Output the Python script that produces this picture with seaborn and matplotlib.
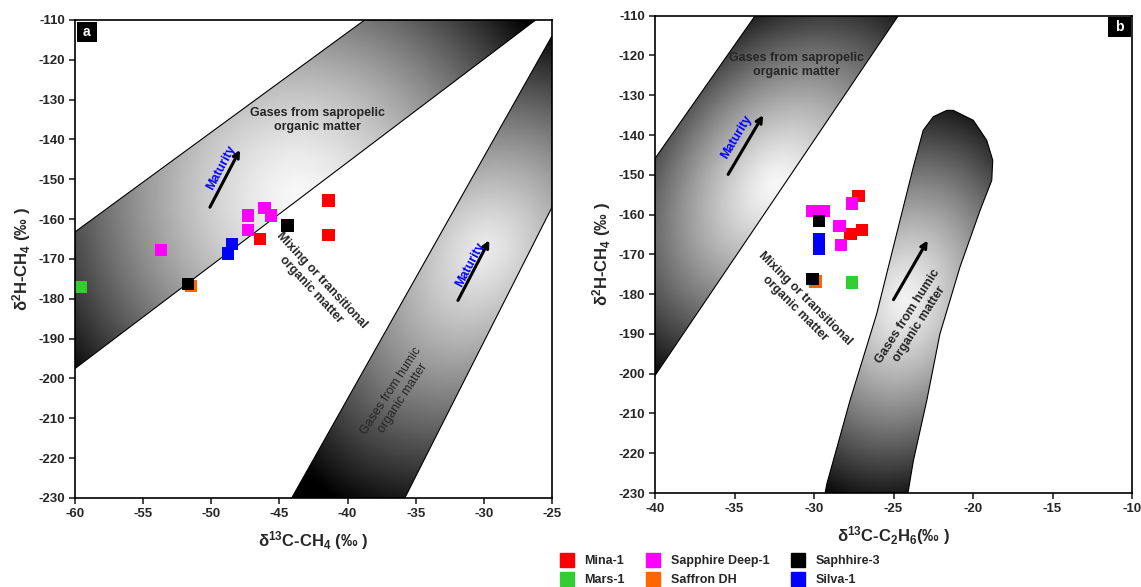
import numpy as np
import pandas as pd
import matplotlib
matplotlib.use("Agg")
import matplotlib.pyplot as plt
import seaborn as sns
from matplotlib.patches import Polygon, Rectangle
from matplotlib.lines import Line2D

# ---------------- data ----------------
samples = ["Mina-1", "Mars-1", "Sapphire Deep-1", "Saffron DH", "Saphhire-3", "Silva-1"]
colors = ["#FF0000", "#33CC33", "#FF00FF", "#FF6600", "#000000", "#0000FF"]

# d13C-CH4, d13C-C2H6, d2H-CH4 (permil)
mina_c1 = [-41.4, -41.4, -46.4]
mina_c2 = [-27.2, -27.0, -27.7]
mina_h = [-155.3, -163.9, -164.9]

mars_c1 = [-59.6]
mars_c2 = [-27.6]
mars_h = [-177.1]

sapdeep_c1 = [-53.7, -47.3, -47.3, -46.1, -45.6]
sapdeep_c2 = [-28.3, -30.1, -28.4, -27.6, -29.4]
sapdeep_h = [-167.7, -159.1, -162.8, -157.2, -159.1]

saffron_c1 = [-51.5]
saffron_c2 = [-29.9]
saffron_h = [-176.8]

saph3_c1 = [-51.7, -44.4]
saph3_c2 = [-30.1, -29.7]
saph3_h = [-176.2, -161.6]

silva_c1 = [-48.5, -48.75]
silva_c2 = [-29.7, -29.7]
silva_h = [-166.2, -168.6]

# genetic field outlines (data coordinates)
sapro_a_x = [-60, -38.75, -26.2, -60]
sapro_a_y = [-163.2, -110, -110, -197.5]
humic_a_x = [-44.1, -35.8, -25, -25]
humic_a_y = [-230, -230, -157, -114]
sapro_b_x = [-40, -33.7, -24.7, -40]
sapro_b_y = [-145.9, -110, -110, -200.5]
humic_b_x = [-29.3, -29.2, -27.74, -26.06, -24.80, -23.75, -23.13, -22.50, -21.65,
             -21.24, -19.98, -19.14, -18.76, -18.82, -19.56, -20.82, -22.08, -22.91,
             -23.75, -24.07, -24.1]
humic_b_y = [-230, -227.8, -206.8, -185.0, -164.8, -148.0, -138.8, -135.4, -133.8,
             -133.8, -136.3, -141.3, -146.3, -151.4, -159.0, -173.2, -190.0, -206.8,
             -221.9, -229.5, -230]

xticks_a = [-60, -55, -50, -45, -40, -35, -30, -25]
xticks_b = [-40, -35, -30, -25, -20, -15, -10]
yticks = [-230, -220, -210, -200, -190, -180, -170, -160, -150, -140, -130, -120, -110]

c1 = mina_c1 + mars_c1 + sapdeep_c1 + saffron_c1 + saph3_c1 + silva_c1
c2 = mina_c2 + mars_c2 + sapdeep_c2 + saffron_c2 + saph3_c2 + silva_c2
h = mina_h + mars_h + sapdeep_h + saffron_h + saph3_h + silva_h
names = (["Mina-1"] * len(mina_h) + ["Mars-1"] * len(mars_h) + ["Sapphire Deep-1"] * len(sapdeep_h)
         + ["Saffron DH"] * len(saffron_h) + ["Saphhire-3"] * len(saph3_h) + ["Silva-1"] * len(silva_h))
df = pd.DataFrame({"c1": c1, "c2": c2, "h": h, "sample": names})
palette = dict(zip(samples, colors))

# ---------------- style ----------------
sns.set_style("white")
plt.rcParams["font.family"] = ["Liberation Sans", "DejaVu Sans"]
plt.rcParams["font.weight"] = "bold"
plt.rcParams["axes.labelweight"] = "bold"
plt.rcParams["axes.unicode_minus"] = False
plt.rcParams["mathtext.fontset"] = "custom"
plt.rcParams["mathtext.rm"] = "Liberation Sans"
plt.rcParams["mathtext.bf"] = "Liberation Sans:bold"
plt.rcParams["mathtext.it"] = "Liberation Sans:italic"

W, H = 1141, 587
fig = plt.figure(figsize=(W / 100, H / 100), dpi=100)
axa = fig.add_axes([75 / W, 1 - 498 / H, 477 / W, 478 / H])
axb = fig.add_axes([655 / W, 1 - 493 / H, 477 / W, 477.3 / H])


def shade(ax, xs, ys, center, ang, ra, rp, p=1.0, top=0.97, ra_neg=None):
    x0, x1 = ax.get_xlim()
    y0, y1 = ax.get_ylim()
    bb = ax.bbox
    sx = bb.width / (x1 - x0)
    sy = bb.height / (y1 - y0)
    gx = np.linspace(x0, x1, 500)
    gy = np.linspace(y0, y1, 500)
    X, Y = np.meshgrid(gx, gy)
    dx = (X - center[0]) * sx
    dy = (Y - center[1]) * sy
    t = np.deg2rad(ang)
    u = dx * np.cos(t) + dy * np.sin(t)
    v = -dx * np.sin(t) + dy * np.cos(t)
    rneg = ra if ra_neg is None else ra_neg
    rau = np.where(u >= 0, ra, rneg)
    r = np.sqrt((u / rau) ** 2 + (v / rp) ** 2)
    val = top * (1 - np.clip(r, 0, 1) ** p)
    im = ax.imshow(val, extent=(x0, x1, y0, y1), origin="lower", cmap="gray", vmin=0, vmax=1,
                   aspect="auto", interpolation="bilinear", zorder=1)
    poly = Polygon(np.column_stack([xs, ys]), closed=True, fc="none", ec="black", lw=0.8, zorder=2)
    ax.add_patch(poly)
    im.set_clip_path(poly)
    ax.set_xlim(x0, x1)
    ax.set_ylim(y0, y1)


def arrow(ax, start, end):
    ax.annotate("", xy=end, xytext=start,
                arrowprops=dict(arrowstyle="->", lw=2.2, color="black", mutation_scale=10,
                                shrinkA=0, shrinkB=0), zorder=4)


for ax, xt in ((axa, xticks_a), (axb, xticks_b)):
    ax.set_xlim(xt[0], xt[-1])
    ax.set_ylim(-230, -110)
    ax.set_xticks(xt)
    ax.set_yticks(yticks)
    ax.tick_params(direction="out", length=4, width=1.2, labelsize=9.5, pad=3,
                   bottom=True, left=True, top=False, right=False)
    for s in ax.spines.values():
        s.set_linewidth(1.2)
        s.set_color("black")
        s.set_zorder(6)

# panel a fields
shade(axa, sapro_a_x, sapro_a_y, (-43.6, -154.7), 36.7, 290, 300, 1.5)
shade(axa, humic_a_x, humic_a_y, (-29.9, -167.8), 60.5, 235, 200, 1.3, 0.92, ra_neg=290)
# panel b fields
shade(axb, sapro_b_x, sapro_b_y, (-32.45, -152.6), 55.4, 230, 160, 1.3)
shade(axb, humic_b_x, humic_b_y, (-24.3, -181.6), 77, 215, 150, 1.3, 0.95)

sns.scatterplot(data=df, x="c1", y="h", hue="sample", hue_order=samples, palette=palette,
                marker="s", s=78, edgecolor="none", linewidth=0, legend=False, ax=axa, zorder=5)
sns.scatterplot(data=df, x="c2", y="h", hue="sample", hue_order=samples, palette=palette,
                marker="s", s=78, edgecolor="none", linewidth=0, legend=False, ax=axb, zorder=5)

for ax, xt in ((axa, xticks_a), (axb, xticks_b)):
    ax.set_xlim(xt[0], xt[-1])
    ax.set_ylim(-230, -110)

# labels
axa.set_xlabel(r"$\mathrm{\delta}^{\mathbf{13}}$C-CH$_{\mathbf{4}}$ (‰ )", fontsize=12, labelpad=7)
axa.set_ylabel(r"$\mathrm{\delta}^{\mathbf{2}}$H-CH$_{\mathbf{4}}$ (‰ )", fontsize=12, labelpad=4)
axb.set_xlabel(r"$\mathrm{\delta}^{\mathbf{13}}$C-C$_{\mathbf{2}}$H$_{\mathbf{6}}$(‰ )", fontsize=12, labelpad=7)
axb.set_ylabel(r"$\mathrm{\delta}^{\mathbf{2}}$H-CH$_{\mathbf{4}}$ (‰ )", fontsize=12, labelpad=4)

# annotations panel a
axa.text(-42.2, -135.2, "Gases from sapropelic\norganic matter", ha="center", va="center",
         fontsize=9, fontweight="bold", zorder=4)
axa.text(-49.3, -147.0, "Maturity", color="#0000FF", rotation=62, ha="center", va="center",
         rotation_mode="anchor", fontsize=9, fontweight="bold", zorder=4)
arrow(axa, (-50.1, -157.0), (-47.9, -142.6))
axa.text(-42.3, -176.5, "Mixing or transitional\norganic matter", rotation=-47, ha="center",
         va="center", rotation_mode="anchor", fontsize=9, fontweight="bold", zorder=4)
axa.text(-36.4, -204.0, "Gases from humic\norganic matter", rotation=57, ha="center", va="center",
         rotation_mode="anchor", fontsize=9, fontweight="normal", zorder=4)
axa.text(-31.0, -171.5, "Maturity", color="#0000FF", rotation=62, ha="center", va="center",
         rotation_mode="anchor", fontsize=9, fontweight="bold", zorder=4)
arrow(axa, (-31.9, -180.4), (-29.6, -165.3))

# annotations panel b
axb.text(-31.1, -122.4, "Gases from sapropelic\norganic matter", ha="center", va="center",
         fontsize=9, fontweight="bold", zorder=4)
axb.text(-34.9, -140.5, "Maturity", color="#0000FF", rotation=59, ha="center", va="center",
         rotation_mode="anchor", fontsize=9, fontweight="bold", zorder=4)
arrow(axb, (-35.4, -149.9), (-33.2, -135.0))
axb.text(-30.9, -182.4, "Mixing or transitional\norganic matter", rotation=-45, ha="center",
         va="center", rotation_mode="anchor", fontsize=9, fontweight="bold", zorder=4)
axb.text(-23.75, -186.6, "Gases from humic\norganic matter", rotation=57.5, ha="center", va="center",
         rotation_mode="anchor", fontsize=9, fontweight="bold", zorder=4)
arrow(axb, (-25.0, -181.4), (-22.85, -166.5))

# panel letters
axa.add_patch(Rectangle((0.004, 0.954), 0.042, 0.042, transform=axa.transAxes, fc="black",
                        ec="none", zorder=7))
axa.text(0.025, 0.975, "a", transform=axa.transAxes, ha="center", va="center", color="white",
         fontsize=10, fontweight="bold", zorder=8)
axb.add_patch(Rectangle((0.950, 0.955), 0.048, 0.043, transform=axb.transAxes, fc="black",
                        ec="none", zorder=7))
axb.text(0.974, 0.976, "b", transform=axb.transAxes, ha="center", va="center", color="white",
         fontsize=10, fontweight="bold", zorder=8)

# legend
handles = [Line2D([], [], marker="s", ls="", color=c, markersize=10.5) for c in colors]
fig.legend(handles, samples, ncol=3, loc="upper left", bbox_to_anchor=(549 / W, 1 - 545 / H),
           frameon=False, prop={"weight": "bold", "size": 9}, handlelength=1.2,
           handletextpad=0.8, columnspacing=1.7, labelspacing=0.55, borderpad=0.3)

fig.savefig("out.png", dpi=100)
